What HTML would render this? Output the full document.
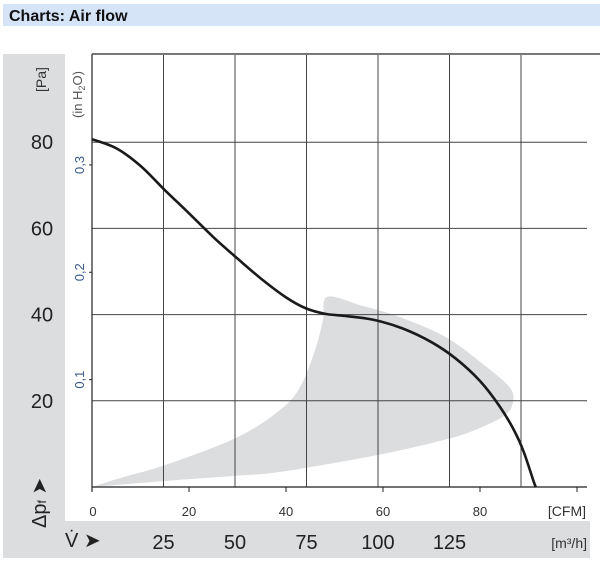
<!DOCTYPE html>
<html><head><meta charset="utf-8"><style>
body{margin:0;background:#fff;width:600px;height:558px;overflow:hidden;font-family:"Liberation Sans",Arial,sans-serif}
</style></head><body>
<svg width="600" height="558" xmlns="http://www.w3.org/2000/svg" font-family="Liberation Sans, Arial, sans-serif">
<rect x="3" y="4" width="597" height="22" fill="#d6e4f8"/>
<text x="9" y="21" font-size="16" font-weight="bold" fill="#111">Charts: Air flow</text>
<rect x="3" y="54" width="62" height="504" fill="#dcdddf"/>
<rect x="3" y="521" width="587" height="37" fill="#dcdddf"/>
<g id="plot"></g>
<text transform="translate(46,92) rotate(-90)" font-size="14" fill="#333">[Pa]</text>
<text transform="translate(82,118) rotate(-90)" font-size="13" fill="#555">(in H<tspan font-size="9" dy="3">2</tspan><tspan dy="-3">O)</tspan></text>
<text transform="translate(46,528) rotate(-90)" font-size="20" fill="#222">Δp<tspan font-size="12">f</tspan> ➤</text>
<text x="65" y="547" font-size="20" fill="#222">V̇ ➤</text>
<text x="586" y="516" font-size="14" fill="#333" text-anchor="end">[CFM]</text>
<text x="587" y="548" font-size="14" fill="#333" text-anchor="end">[m³/h]</text>
</svg>
<script>
const paTicks=[20,40,60,80];
const inTicks=["0,1","0,2","0,3"];
const inVals=[0.1,0.2,0.3];
const cfmTicks=[0,20,40,60,80];
const m3hTicks=[25,50,75,100,125];
const m3hGrid=[0,25,50,75,100,125,150];
const curveCfm=[0,5,10,15,20,25,30,35,40,44,48,52,58,64,70,75,80,84,87,89,91,91.5];
const curvePa=[80.7,78.6,74.5,68.9,63.5,58,53,48.2,44,41.5,40.2,39.7,38.8,36.8,33.6,29.8,24.6,18.8,13.2,8.2,1.5,0];
const zoneCfm=[0,15.1,29.7,38.8,58.8,73.2,80,85.2,86.8,86.2,81.4,73.2,63.5,55.3,48.5,47.6,46,42.9,38.8,29.7,15.1,5.8,0];
const zonePa=[0,1.4,2.6,3.5,7.4,11.1,13.7,16.7,19.7,23,27.8,34.6,39.4,42.2,44.1,38.7,31.8,23.2,17.9,11.4,5.1,2.1,0];
const X0=92,Y0=487,PX_CFM=4.85,PX_PA=4.31,PX_M3H=71.5/25;
const sx=c=>X0+c*PX_CFM, sy=p=>Y0-p*PX_PA, xm=m=>X0+m*PX_M3H;
const NS="http://www.w3.org/2000/svg", g=document.getElementById('plot');
function mk(t,a){const e=document.createElementNS(NS,t);for(const k in a)e.setAttribute(k,a[k]);g.appendChild(e);return e;}
function smooth(pts){let d='M'+pts[0];for(let i=1;i<pts.length;i++){const p0=pts[i-2]||pts[i-1],p1=pts[i-1],p2=pts[i],p3=pts[i+1]||p2;
d+=` C${p1[0]+(p2[0]-p0[0])/6},${p1[1]+(p2[1]-p0[1])/6} ${p2[0]-(p3[0]-p1[0])/6},${p2[1]-(p3[1]-p1[1])/6} ${p2[0]},${p2[1]}`;}return d;}
let bg=mk('rect',{x:65,y:54,width:525,height:467,fill:'#fff'});


let zpts=zoneCfm.map((c,i)=>[sx(c),sy(zonePa[i])]);
let zone=mk('path',{d:smooth(zpts)+'Z',fill:'#dcdddf'});


m3hGrid.forEach(m=>{let l=mk('line',{x1:xm(m),x2:xm(m),y1:54,y2:Y0,stroke:'#444','stroke-width':1});

});
[0,20,40,60,80].forEach(p=>{let l=mk('line',{x1:X0,x2:587,y1:sy(p),y2:sy(p),stroke:'#444','stroke-width':p==0?1.5:1});

});
let topBorder=mk('line',{x1:X0,x2:600,y1:54,y2:54,stroke:'#777','stroke-width':2});


let ax=mk('line',{x1:X0,x2:X0,y1:54,y2:Y0+4,stroke:'#222','stroke-width':1.2});


paTicks.forEach(p=>{let t=mk('text',{x:42,y:sy(p)+7,'font-size':20,fill:'#222','text-anchor':'middle'});t.textContent=p;

});
inTicks.forEach((s,i)=>{const yy=sy(inVals[i]*249.1);
let tk=mk('line',{x1:X0-3,x2:X0,y1:yy,y2:yy,stroke:'#222'});


let t=mk('text',{transform:`translate(84,${yy}) rotate(-90)`,'font-size':13,fill:'#3a5a8c','text-anchor':'middle'});t.textContent=s;

});
cfmTicks.concat([100]).forEach(c=>{let tk=mk('line',{x1:sx(c),x2:sx(c),y1:Y0,y2:Y0+5,stroke:'#222'});

});
cfmTicks.forEach(c=>{let t=mk('text',{x:sx(c)+(c==0?1:0),y:516,'font-size':13,fill:'#333','text-anchor':'middle'});t.textContent=c;

});
m3hTicks.forEach(m=>{let t=mk('text',{x:xm(m),y:549,'font-size':20,fill:'#222','text-anchor':'middle'});t.textContent=m;

});
let pts=curveCfm.map((c,i)=>[sx(c),sy(curvePa[i])]);
let cv=mk('path',{d:smooth(pts),fill:'none',stroke:'#1a1a1a','stroke-width':2.6});


</script>
</body></html>
